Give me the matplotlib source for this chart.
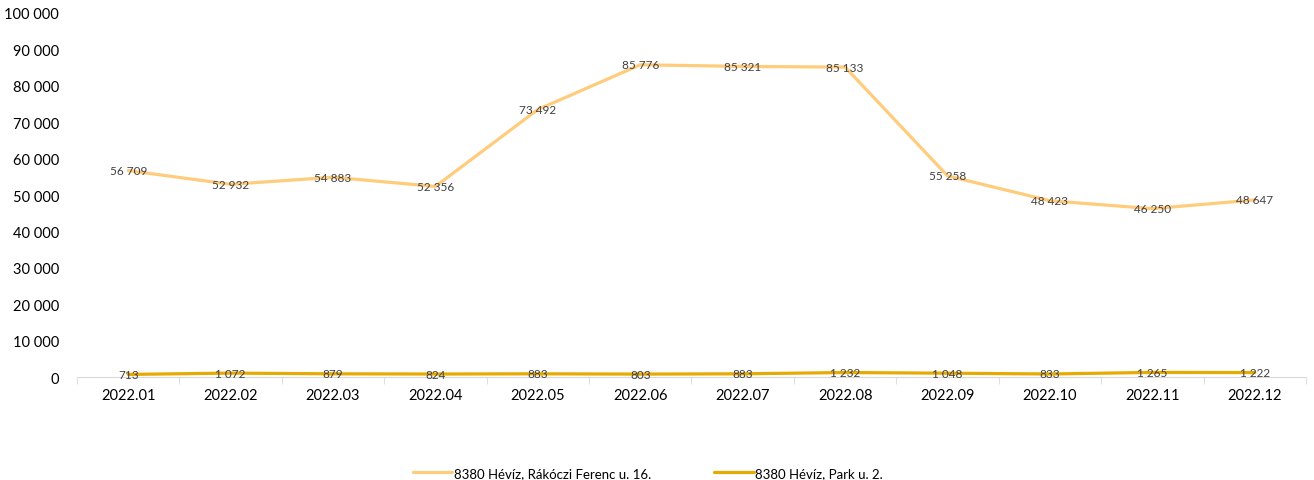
import matplotlib.pyplot as plt
import numpy as np

months = ["2022.01", "2022.02", "2022.03", "2022.04", "2022.05", "2022.06",
          "2022.07", "2022.08", "2022.09", "2022.10", "2022.11", "2022.12"]
rakoczi = [56709, 52932, 54883, 52356, 73492, 85776, 85321, 85133, 55258, 48423, 46250, 48647]
park = [713, 1072, 879, 824, 883, 803, 883, 1232, 1048, 833, 1265, 1222]
names = ["8380 Hévíz, Rákóczi Ferenc u. 16.", "8380 Hévíz, Park u. 2."]
colors = ["#FFCC7C", "#E6AA00"]

plt.rcParams['font.family'] = ['Lato', 'DejaVu Sans']


def fmt(v):
    return f"{v:,}".replace(",", " ")


fig = plt.figure(figsize=(13.14, 4.81), dpi=100)
ax = fig.add_axes([0.0586, 0.2141, 0.9353, 0.7568])

x = np.arange(len(months))
for vals, name, col in zip([rakoczi, park], names, colors):
    ax.plot(x, vals, color=col, lw=2.3, label=name, solid_capstyle='round', zorder=2)
    for xi, v in zip(x, vals):
        ax.text(xi, v, fmt(v), ha='center', va='center', fontsize=8.5, color='#404040', zorder=3)

ax.set_xlim(-0.5, len(months) - 0.5)
ax.set_ylim(0, 100000)
ax.set_yticks(np.arange(0, 100001, 10000))
ax.set_yticklabels([fmt(v) for v in range(0, 100001, 10000)])
ax.set_xticks(x)
ax.set_xticklabels(months)
ax.set_xticks(np.arange(-0.5, len(months)), minor=True)
ax.tick_params(axis='x', which='major', length=0, pad=8, labelsize=10.5)
ax.tick_params(axis='x', which='minor', length=5, color='#D9D9D9')
ax.tick_params(axis='y', length=0, pad=13, labelsize=10.5)

for s in ['top', 'right', 'left']:
    ax.spines[s].set_visible(False)
ax.spines['bottom'].set_color('#D9D9D9')

fig.legend(loc='center', bbox_to_anchor=(0.493, 0.015), ncol=2, frameon=False,
           fontsize=9.5, handlelength=3, handletextpad=0.1, columnspacing=4.8)

fig.savefig("out.png", dpi=100)
